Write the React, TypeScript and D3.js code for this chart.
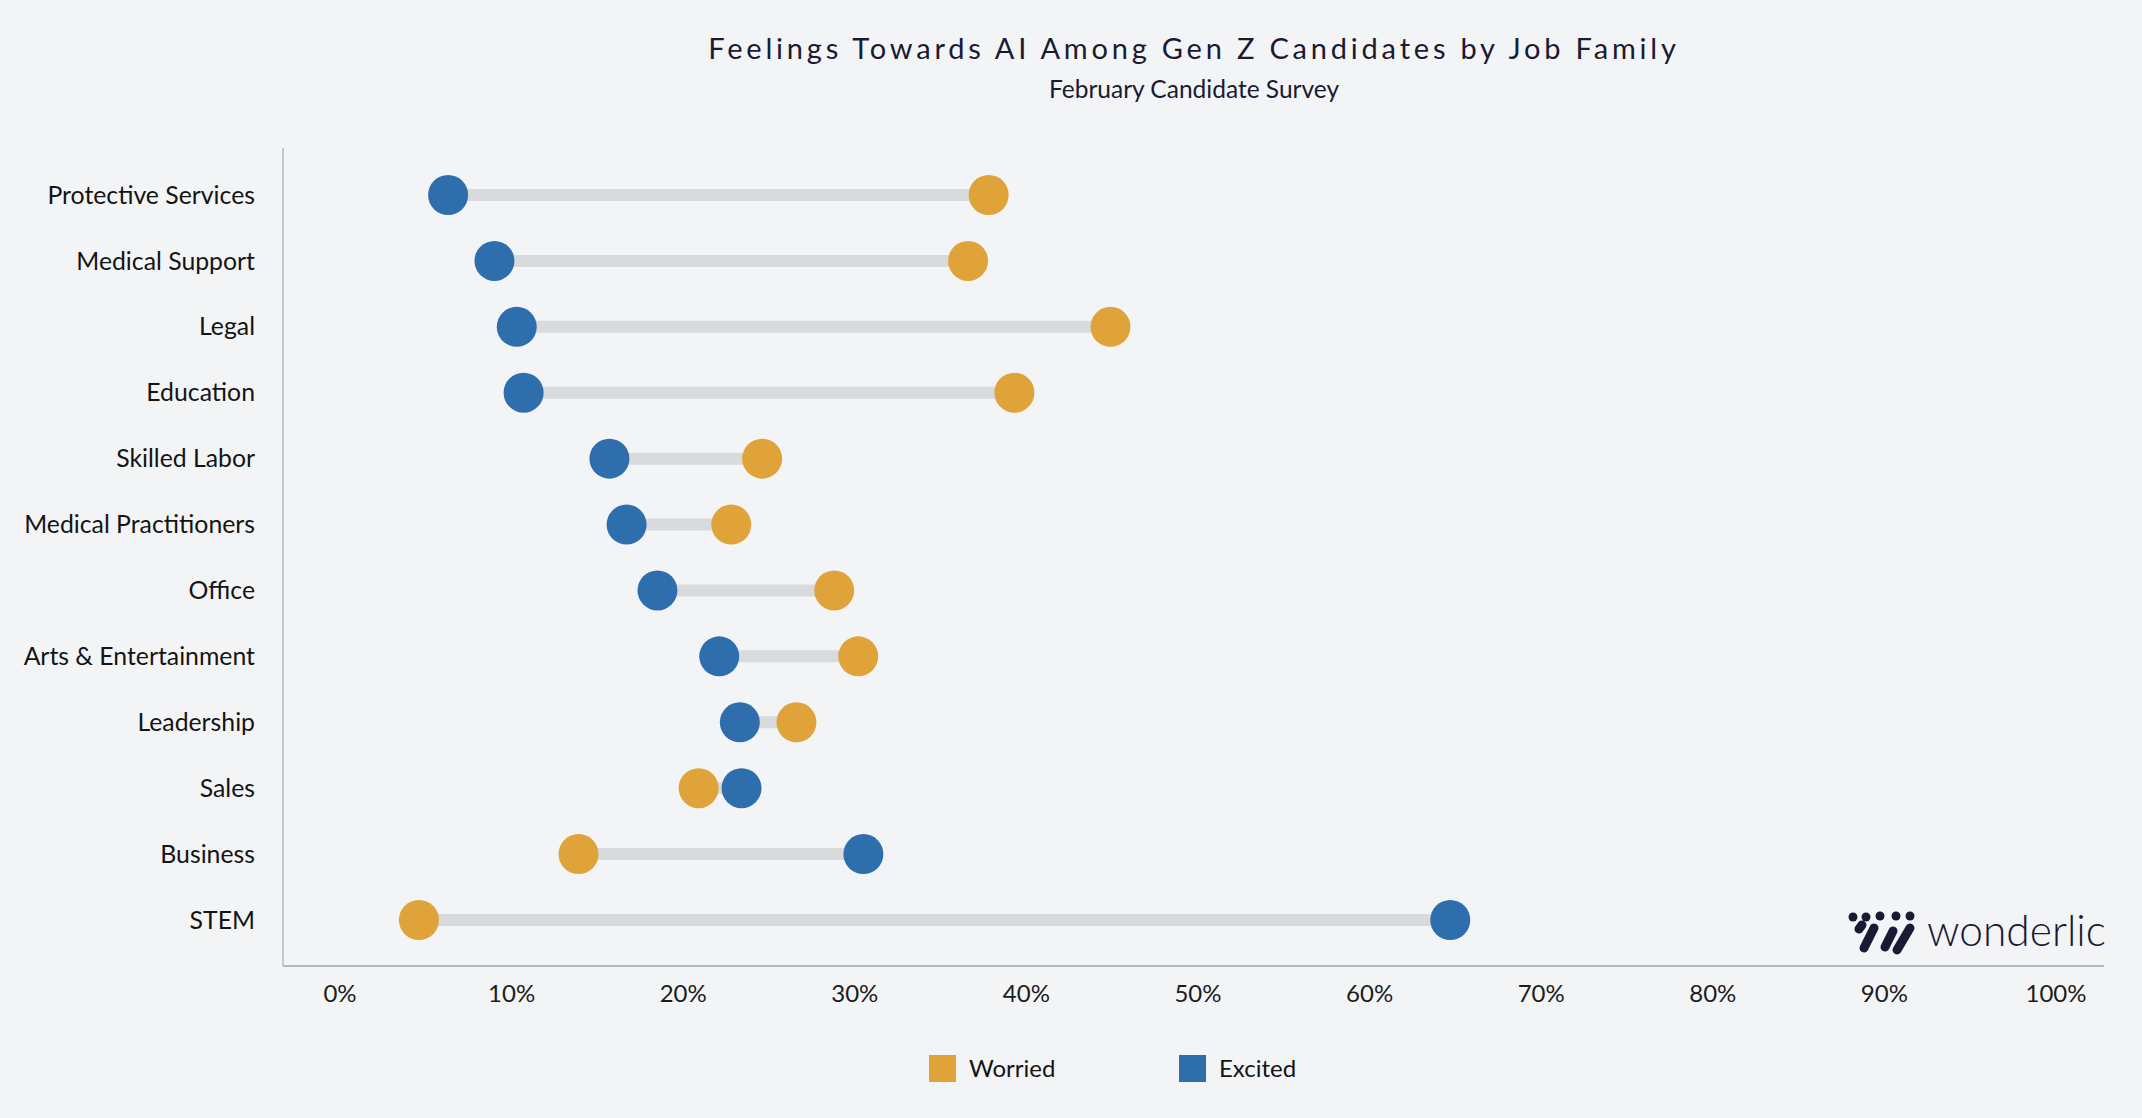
import { useEffect, useRef } from "react";
import * as d3 from "d3";

// job families, top to bottom
const categories = [
  "Protective Services",
  "Medical Support",
  "Legal",
  "Education",
  "Skilled Labor",
  "Medical Practitioners",
  "Office",
  "Arts & Entertainment",
  "Leadership",
  "Sales",
  "Business",
  "STEM",
];

// share of candidates (percent)
const worried = [37.8, 36.6, 44.9, 39.3, 24.6, 22.8, 28.8, 30.2, 26.6, 20.9, 13.9, 4.6];
const excited = [6.3, 9.0, 10.3, 10.7, 15.7, 16.7, 18.5, 22.1, 23.3, 23.4, 30.5, 64.7];

const tickValues = [0, 10, 20, 30, 40, 50, 60, 70, 80, 90, 100];

const seriesNames = ["Worried", "Excited"];
const seriesColors = ["#dfa33a", "#2f6ead"];

const FONT = "Lato, 'Noto Sans', sans-serif";

const App = () => {
  const ref = useRef(null);

  useEffect(() => {
    const width = 2142;
    const height = 1118;
    const svg = d3.select(ref.current).attr("width", width).attr("height", height);
    svg.selectAll("*").remove();

    svg.append("rect").attr("width", width).attr("height", height).attr("fill", "#f3f4f6");

    const x = d3.scaleLinear().domain([0, 100]).range([340, 2056]);
    const y = d3.scalePoint().domain(categories).range([195, 920]);
    const color = d3.scaleOrdinal().domain(seriesNames).range(seriesColors);

    // title
    svg
      .append("text")
      .attr("x", 1194)
      .attr("y", 59)
      .attr("text-anchor", "middle")
      .style("font-family", FONT)
      .style("font-size", "29px")
      .style("letter-spacing", "3.8px")
      .attr("fill", "#1a1a33")
      .text("Feelings Towards AI Among Gen Z Candidates by Job Family");

    svg
      .append("text")
      .attr("x", 1194)
      .attr("y", 98)
      .attr("text-anchor", "middle")
      .style("font-family", FONT)
      .style("font-size", "24.5px")
      .attr("fill", "#1a1a33")
      .text("February Candidate Survey");

    // axis lines
    svg
      .append("line")
      .attr("x1", 283)
      .attr("x2", 283)
      .attr("y1", 148)
      .attr("y2", 966)
      .attr("stroke", "#b5b7bb")
      .attr("stroke-width", 1.5);
    svg
      .append("line")
      .attr("x1", 283)
      .attr("x2", 2104)
      .attr("y1", 966)
      .attr("y2", 966)
      .attr("stroke", "#b5b7bb")
      .attr("stroke-width", 2);

    // tick labels
    svg
      .append("g")
      .selectAll("text")
      .data(tickValues)
      .enter()
      .append("text")
      .attr("x", (d) => x(d))
      .attr("y", 1002)
      .attr("text-anchor", "middle")
      .style("font-family", FONT)
      .style("font-size", "24px")
      .attr("fill", "#1c1c1c")
      .text((d) => `${d}%`);

    // category labels
    svg
      .append("g")
      .selectAll("text")
      .data(categories)
      .enter()
      .append("text")
      .attr("x", 255)
      .attr("y", (d) => y(d))
      .attr("dy", "0.35em")
      .attr("text-anchor", "end")
      .style("font-family", FONT)
      .style("font-size", "24.8px")
      .attr("fill", "#141414")
      .text((d) => d);

    const rows = categories.map((c, i) => ({ c, w: worried[i], e: excited[i] }));

    // connector bars
    svg
      .append("g")
      .selectAll("line")
      .data(rows)
      .enter()
      .append("line")
      .attr("x1", (d) => x(Math.min(d.w, d.e)))
      .attr("x2", (d) => x(Math.max(d.w, d.e)))
      .attr("y1", (d) => y(d.c))
      .attr("y2", (d) => y(d.c))
      .attr("stroke", "#d9dadc")
      .attr("stroke-width", 12);

    // dots
    const dots = svg.append("g");
    dots
      .selectAll(".worried")
      .data(rows)
      .enter()
      .append("circle")
      .attr("class", "worried")
      .attr("cx", (d) => x(d.w))
      .attr("cy", (d) => y(d.c))
      .attr("r", 20)
      // @ts-ignore
      .attr("fill", color("Worried"));
    dots
      .selectAll(".excited")
      .data(rows)
      .enter()
      .append("circle")
      .attr("class", "excited")
      .attr("cx", (d) => x(d.e))
      .attr("cy", (d) => y(d.c))
      .attr("r", 20)
      // @ts-ignore
      .attr("fill", color("Excited"));

    // legend
    const legend = svg.append("g");
    seriesNames.forEach((name, i) => {
      const lx = 929 + i * 250;
      legend
        .append("rect")
        .attr("x", lx)
        .attr("y", 1055)
        .attr("width", 27)
        .attr("height", 27)
        // @ts-ignore
        .attr("fill", color(name));
      legend
        .append("text")
        .attr("x", lx + 40)
        .attr("y", 1069)
        .attr("dy", "0.35em")
        .style("font-family", FONT)
        .style("font-size", "24px")
        .attr("fill", "#141414")
        .text(name);
    });

    // wonderlic mark
    const logo = svg.append("g").attr("fill", "#1b1a35").attr("stroke", "#1b1a35");
    [
      [1853, 917],
      [1866, 917],
      [1880, 916],
      [1896, 916],
      [1910, 916],
    ].forEach(([cx, cy]) => {
      logo.append("circle").attr("cx", cx).attr("cy", cy).attr("r", 4.5).attr("stroke", "none");
    });
    [
      [1859, 929, 1862, 925],
      [1864, 948, 1874, 928],
      [1885, 947, 1893, 931],
      [1897, 950, 1910, 928],
    ].forEach(([x1, y1, x2, y2]) => {
      logo
        .append("line")
        .attr("x1", x1)
        .attr("y1", y1)
        .attr("x2", x2)
        .attr("y2", y2)
        .attr("stroke-width", 9)
        .attr("stroke-linecap", "round");
    });
    svg
      .append("text")
      .attr("x", 1927)
      .attr("y", 946)
      .style("font-family", "Lato, sans-serif")
      .style("font-weight", 300)
      .style("font-size", "42.5px")
      .attr("fill", "#1b1a35")
      .text("wonderlic");
  }, []);

  return (
    <div style={{ position: "absolute", left: 0, top: 0 }}>
      <svg ref={ref}></svg>
    </div>
  );
};

export default App;
